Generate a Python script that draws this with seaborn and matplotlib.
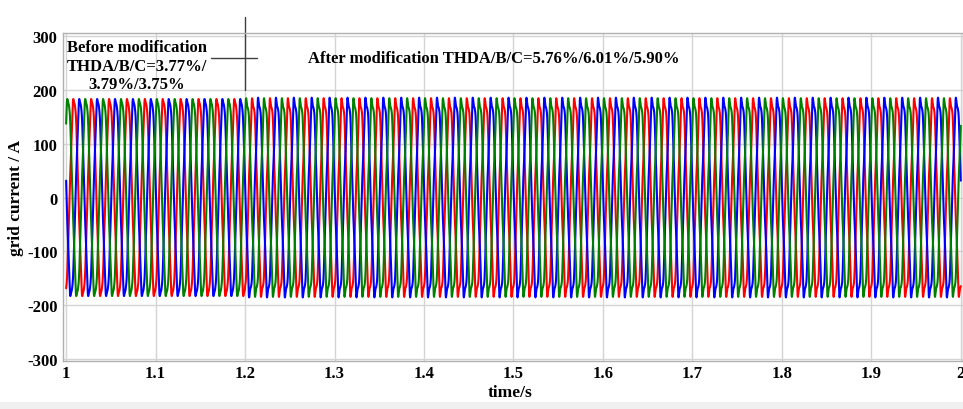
import numpy as np
import pandas as pd
import matplotlib
matplotlib.use("Agg")
import matplotlib.pyplot as plt
import seaborn as sns

# ---- values ----
t_start, t_end = 1.0, 2.0
t_switch = 1.2                      # modification instant (s)
grid_freq = 50.0                    # Hz (5 cycles per 0.1 s)
phase_names = ["A", "B", "C"]
phase_colors = ["#ff0000", "#0000ff", "#008000"]   # red, blue, green
phase_angle_deg = [-160.0, 80.0, -40.0]             # at t = 1.0 s
amp_before = [183.0, 183.0, 183.0]                  # A peak
amp_after = [180.0, 181.0, 180.0]
harm_order = [5, 7, 11]
harm_before = [0.030, 0.020, 0.008]                 # per-unit of fundamental
harm_after = [0.045, 0.033, 0.012]
yticks = [-300, -200, -100, 0, 100, 200, 300]
xticks = [1.0, 1.1, 1.2, 1.3, 1.4, 1.5, 1.6, 1.7, 1.8, 1.9, 2.0]
xticklabels = ["1", "1.1", "1.2", "1.3", "1.4", "1.5", "1.6", "1.7", "1.8", "1.9", "2"]
text_before = "Before modification\nTHDA/B/C=3.77%/\n3.79%/3.75%"
text_after = "After modification THDA/B/C=5.76%/6.01%/5.90%"

# ---- build the signal table ----
t = np.linspace(t_start, t_end, 12001)
w = 2 * np.pi * grid_freq
rows = []
for name, ang, a0, a1 in zip(phase_names, phase_angle_deg, amp_before, amp_after):
    th = w * (t - t_start) + np.deg2rad(ang)
    before = t < t_switch
    amp = np.where(before, a0, a1)
    i = np.cos(th)
    for h, hb, ha in zip(harm_order, harm_before, harm_after):
        i = i + np.where(before, hb, ha) * np.cos(h * th + 0.4 * h)
    rows.append(pd.DataFrame({"t": t, "i": amp * i, "phase": name}))
df = pd.concat(rows, ignore_index=True)

sns.set_style("white")
plt.rcParams["font.family"] = ["Liberation Serif", "DejaVu Serif"]
plt.rcParams["font.weight"] = "bold"
plt.rcParams["axes.unicode_minus"] = False
plt.rcParams["text.color"] = "black"
plt.rcParams["axes.labelcolor"] = "black"

fig = plt.figure(figsize=(9.63, 4.10), dpi=100)
fig.patch.set_facecolor("white")
fig.patches.append(matplotlib.patches.Rectangle((0, 0), 1, 7 / 410, transform=fig.transFigure,
                                                facecolor="#f0f0f0", edgecolor="none", zorder=0))
ax = fig.add_axes([63 / 963, 1 - 362 / 410, 1 - 63 / 963, (362 - 34) / 410])

sns.lineplot(data=df, x="t", y="i", hue="phase", palette=dict(zip(phase_names, phase_colors)),
             estimator=None, sort=False, legend=False, linewidth=1.5, ax=ax)

ax.set_xlim(0.9965, 2.0025)
ax.set_ylim(-304, 306)
ax.set_xticks(xticks)
ax.set_xticklabels(xticklabels)
ax.set_yticks(yticks)
ax.grid(True, color="#d4d4d4", linewidth=1.0)
ax.set_axisbelow(True)
for s in ax.spines.values():
    s.set_color("#b0b0b0")
    s.set_linewidth(1.0)
ax.tick_params(axis="both", direction="in", length=4, color="#a0a0a0",
               labelcolor="black", labelsize=12, pad=4)
ax.tick_params(axis="x", pad=3)
for lab in ax.get_xticklabels() + ax.get_yticklabels():
    lab.set_fontweight("bold")
ax.set_xlabel("time/s", fontsize=12.5, fontweight="bold", color="black")
ax.set_ylabel("grid current / A", fontsize=12.5, fontweight="bold", color="black")
ax.xaxis.set_label_coords(0.497, -0.071)
ax.yaxis.set_label_coords(-0.043, 0.5)

ax.text(1.079, 294, text_before, ha="center", va="top", fontsize=12, fontweight="bold",
        linespacing=1.2, color="black")
ax.text(1.478, 260, text_after, ha="center", va="center", fontsize=12, fontweight="bold",
        color="black")

# cursor marker
ax.plot([t_switch, t_switch], [200, 335], color="#404040", linewidth=1.0, clip_on=False)
ax.plot([1.162, 1.213], [260, 260], color="#404040", linewidth=1.0)

fig.savefig("out.png", dpi=100)
